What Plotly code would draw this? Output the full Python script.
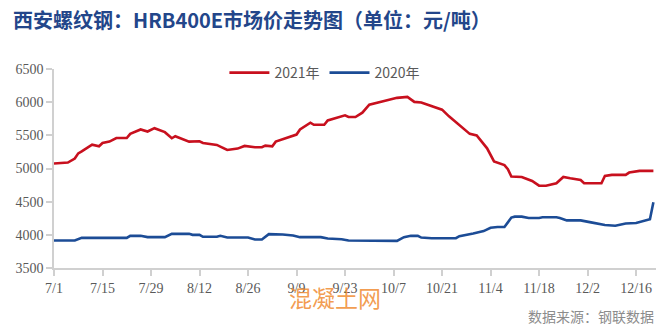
import plotly.graph_objects as go

# Xi'an rebar HRB400E market price, 2021 vs 2020 (yuan/ton), plotted on a shared month/day axis
dates_2021 = ["07-01", "07-05", "07-07", "07-08", "07-09", "07-12", "07-14", "07-15", "07-17",
              "07-19", "07-22", "07-23", "07-26", "07-28", "07-30", "08-02", "08-04", "08-05",
              "08-09", "08-12", "08-13", "08-17", "08-18", "08-20", "08-23", "08-25", "08-28",
              "08-30", "08-31", "09-02", "09-03", "09-06", "09-08", "09-09", "09-10", "09-13",
              "09-14", "09-17", "09-18", "09-21", "09-23", "09-24", "09-26", "09-28", "09-30",
              "10-04", "10-08", "10-11", "10-13", "10-15", "10-18", "10-21", "10-23", "10-25",
              "10-27", "10-29", "10-31", "11-01", "11-03", "11-05", "11-08", "11-09", "11-10",
              "11-13", "11-16", "11-18", "11-20", "11-23", "11-25", "11-27", "11-30", "12-01",
              "12-06", "12-07", "12-09", "12-13", "12-14", "12-17", "12-21"]
price_2021 = [5076, 5090, 5150, 5228, 5258, 5360, 5335, 5385, 5405,
              5460, 5460, 5522, 5588, 5558, 5608, 5548, 5456, 5487,
              5405, 5410, 5385, 5355, 5330, 5279, 5300, 5340, 5320,
              5320, 5345, 5335, 5405, 5456, 5492, 5512, 5588, 5690,
              5659, 5659, 5725, 5776, 5801, 5776, 5776, 5842, 5963,
              6014, 6065, 6080, 6004, 5994, 5943, 5887, 5786, 5700,
              5608, 5522, 5497, 5436, 5304, 5106, 5051, 4990, 4878,
              4873, 4812, 4741, 4741, 4777, 4873, 4853, 4827, 4777,
              4777, 4888, 4904, 4904, 4939, 4964, 4964]

dates_2020 = ["07-01", "07-07", "07-09", "07-22", "07-23", "07-26", "07-28", "08-02", "08-04",
              "08-09", "08-10", "08-12", "08-13", "08-17", "08-18", "08-20", "08-26", "08-28",
              "08-30", "09-01", "09-05", "09-08", "09-10", "09-16", "09-18", "09-22", "09-24",
              "10-08", "10-10", "10-12", "10-14", "10-15", "10-18", "10-25", "10-26", "10-28",
              "10-30", "11-02", "11-04", "11-06", "11-08", "11-10", "11-11", "11-13", "11-15",
              "11-18", "11-19", "11-23", "11-24", "11-26", "11-30", "12-03", "12-07", "12-10",
              "12-13", "12-16", "12-18", "12-20", "12-21"]
price_2020 = [3914, 3914, 3954, 3954, 3985, 3985, 3965, 3965, 4015,
              4015, 4000, 4000, 3970, 3970, 3985, 3959, 3959, 3929,
              3929, 4010, 4005, 3990, 3965, 3965, 3944, 3934, 3914,
              3909, 3965, 3985, 3985, 3959, 3949, 3949, 3980, 3995,
              4020, 4056, 4106, 4117, 4117, 4260, 4274, 4274, 4254,
              4254, 4264, 4264, 4254, 4218, 4218, 4188, 4147, 4137,
              4172, 4178, 4203, 4234, 4490]

tick_dates = ["07-01", "07-15", "07-29", "08-12", "08-26", "09-09", "09-23",
              "10-07", "10-21", "11-04", "11-18", "12-02", "12-16"]
tick_labels = ["7/1", "7/15", "7/29", "8/12", "8/26", "9/9", "9/23",
               "10/7", "10/21", "11/4", "11/18", "12/2", "12/16"]
y_ticks = [3500, 4000, 4500, 5000, 5500, 6000, 6500]


def on_axis(md_list):
    return ["2021-" + md for md in md_list]


RED = "#C8101E"
BLUE = "#1C4C96"
AXIS = "#D0D0D0"
TEXT = "#595959"

fig = go.Figure()
fig.add_trace(go.Scatter(x=on_axis(dates_2021), y=price_2021, name="2021年",
                         mode="lines", line=dict(color=RED, width=2.6)))
fig.add_trace(go.Scatter(x=on_axis(dates_2020), y=price_2020, name="2020年",
                         mode="lines", line=dict(color=BLUE, width=2.6)))

tick_font = dict(family="Liberation Serif, Times New Roman, serif", size=14, color=TEXT)

fig.update_layout(
    width=672, height=331,
    margin=dict(l=54, r=16, t=69, b=63),
    paper_bgcolor="white", plot_bgcolor="white",
    showlegend=True,
    legend=dict(orientation="h", x=0.45, y=0.98, xanchor="center", yanchor="middle",
                font=dict(family="Noto Sans CJK SC, sans-serif", size=14, color=TEXT),
                itemwidth=40, bgcolor="rgba(0,0,0,0)"),
    xaxis=dict(type="date", range=["2021-07-01", "2021-12-21 18:00"],
               tickvals=on_axis(tick_dates), ticktext=tick_labels,
               showgrid=False, zeroline=False, showline=True, linecolor=AXIS, linewidth=1.5,
               ticks="outside", ticklen=6, tickcolor=AXIS, tickwidth=1.5,
               tickfont=tick_font),
    yaxis=dict(range=[3500, 6500], tickvals=y_ticks, ticktext=[str(v) for v in y_ticks],
               showgrid=False, zeroline=False, showline=True, linecolor=AXIS, linewidth=1.5,
               ticks="outside", ticklen=6, tickcolor=AXIS, tickwidth=1.5,
               tickfont=tick_font),
)

# chart title
fig.add_annotation(text="<b>西安螺纹钢：HRB400E市场价走势图（单位：元/吨）</b>",
                   xref="paper", yref="paper", x=0, y=1,
                   xshift=-43, yshift=50, xanchor="left", yanchor="middle",
                   showarrow=False,
                   font=dict(family="Noto Sans CJK SC, sans-serif", size=20, color="#23468A"))

# data source note
fig.add_annotation(text="数据来源：钢联数据", xref="paper", yref="paper", x=1, y=0,
                   yshift=-48, xanchor="right", yanchor="middle", showarrow=False,
                   font=dict(family="Noto Sans CJK SC, sans-serif", size=14, color="#8C8C8C"))

# site watermark
fig.add_annotation(text="混凝土网", xref="paper", yref="paper", x=0.467, y=0,
                   yshift=-29, xanchor="center", yanchor="middle", showarrow=False,
                   font=dict(family="Noto Sans CJK SC, sans-serif", size=23,
                             color="rgba(240,140,50,0.85)"))

fig.write_html("out.html")
